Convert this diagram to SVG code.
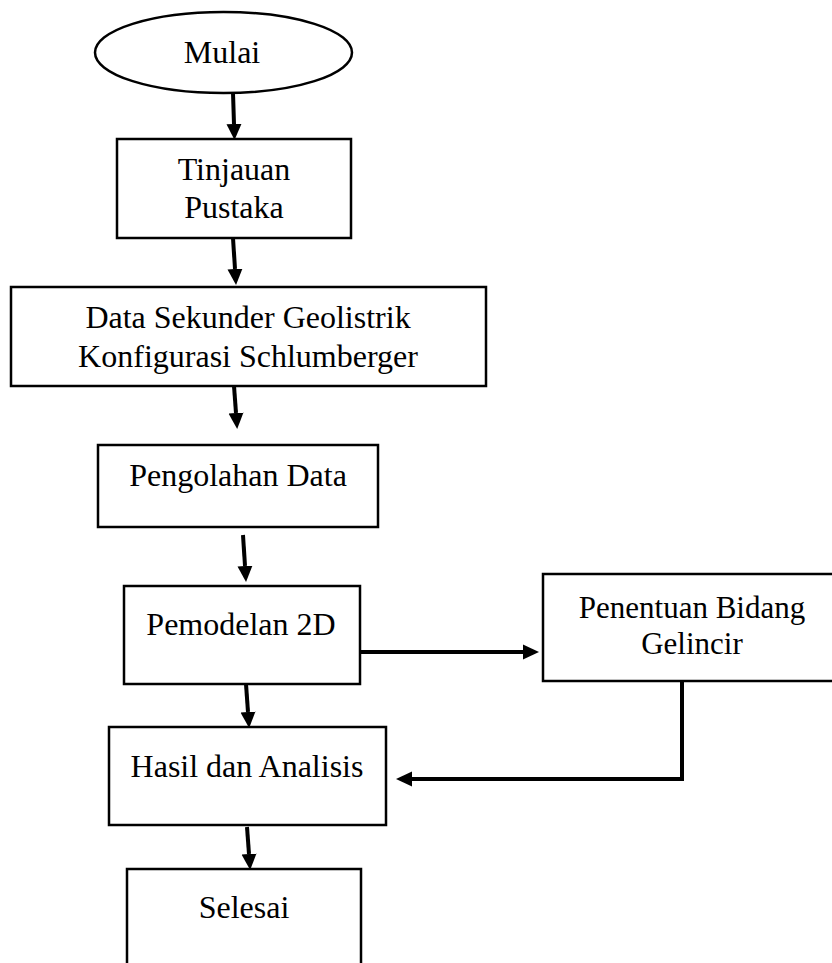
<svg xmlns="http://www.w3.org/2000/svg" width="832" height="963" viewBox="0 0 832 963">
<style>
.box{fill:#fff;stroke:#000;stroke-width:2.5}
.t{font-family:"Liberation Serif","Times New Roman",serif;font-size:32px;fill:#000;text-anchor:middle}
.c{fill:none;stroke:#000;stroke-width:4}
</style>
<defs>
<marker id="ah" markerUnits="userSpaceOnUse" markerWidth="16" markerHeight="16" refX="0" refY="8" orient="auto" viewBox="0 0 16 16">
<path d="M0,0.5 L16,8 L0,15.5 z" fill="#000"/>
</marker>
</defs>
<rect width="832" height="963" fill="#fff"/>
<g id="mulai"><ellipse class="box" cx="223.5" cy="52.5" rx="128.5" ry="40.5"/><text class="t" x="222" y="63">Mulai</text></g>
<g id="tinjauan"><rect class="box" x="117" y="139" width="234" height="99"/><text class="t" x="234" y="180">Tinjauan</text><text class="t" x="234" y="218">Pustaka</text></g>
<g id="data"><rect class="box" x="11" y="287" width="475" height="99"/><text class="t" x="248" y="328">Data Sekunder Geolistrik</text><text class="t" x="248" y="367">Konfigurasi Schlumberger</text></g>
<g id="pengolahan"><rect class="box" x="98" y="445" width="280" height="82"/><text class="t" x="238" y="486">Pengolahan Data</text></g>
<g id="pemodelan"><rect class="box" x="124" y="586" width="236" height="98"/><text class="t" x="241" y="635">Pemodelan 2D</text></g>
<g id="penentuan"><rect class="box" x="543" y="574" width="300" height="107"/><text class="t" x="692" y="618" style="font-size:31px">Penentuan Bidang</text><text class="t" x="692" y="654" style="font-size:31px">Gelincir</text></g>
<g id="hasil"><rect class="box" x="109" y="727" width="277" height="98"/><text class="t" x="247" y="777">Hasil dan Analisis</text></g>
<g id="selesai"><rect class="box" x="127" y="869" width="234" height="110"/><text class="t" x="244" y="918">Selesai</text></g>
<g id="connectors">
<path class="c" d="M233,93 L234,124" marker-end="url(#ah)"/>
<path class="c" d="M233,238 L235,269" marker-end="url(#ah)"/>
<path class="c" d="M234,386 L236,413" marker-end="url(#ah)"/>
<path class="c" d="M243,535 L245,566" marker-end="url(#ah)"/>
<path class="c" d="M361,652 L523,652" marker-end="url(#ah)"/>
<path class="c" d="M682,681 L682,779 L412,779" marker-end="url(#ah)"/>
<path class="c" d="M246,684 L248,712" marker-end="url(#ah)"/>
<path class="c" d="M247,827 L249,854" marker-end="url(#ah)"/>
</g>
</svg>
